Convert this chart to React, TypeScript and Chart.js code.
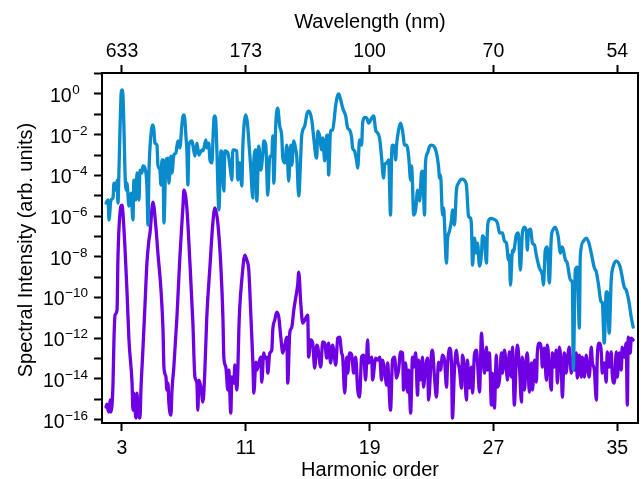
import React, { useEffect, useRef } from "react";
import { Chart, registerables } from "chart.js";

Chart.register(...registerables);

// ---- data (harmonic order, log10 of spectral intensity) ----
const harmonicTicks = [3, 11, 19, 27, 35];
const wavelengthLabels = ["633", "173", "100", "70", "54"];
const yTickExponents = [-16, -15, -14, -13, -12, -11, -10, -9, -8, -7, -6, -5, -4, -3, -2, -1, 0, 1];
const yLabelExponents = [-16, -14, -12, -10, -8, -6, -4, -2, 0];

const blueH = [
  1.97, 2.10, 2.16, 2.29, 2.42, 2.48, 2.61, 2.68, 2.74, 2.81, 2.87, 2.94, 3.00, 3.06, 3.13, 3.19,
  3.26, 3.32, 3.45, 3.58, 3.71, 3.77, 3.90, 3.97, 4.10, 4.16, 4.29, 4.35, 4.48, 4.61, 4.68, 4.74,
  4.87, 4.94, 5.00, 5.06, 5.13, 5.26, 5.32, 5.45, 5.52, 5.58, 5.65, 5.71, 5.84, 5.97, 6.03, 6.16,
  6.23, 6.35, 6.48, 6.61, 6.74, 6.87, 6.94, 7.00, 7.06, 7.13, 7.19, 7.26, 7.32, 7.52, 7.58, 7.71,
  7.84, 7.97, 8.16, 8.23, 8.42, 8.48, 8.61, 8.68, 8.81, 8.90, 8.95, 9.00, 9.06, 9.13, 9.26, 9.39,
  9.45, 9.58, 9.65, 9.84, 10.03, 10.10, 10.16, 10.42, 10.48, 10.61, 10.74, 10.81, 10.90, 11.00, 11.10, 11.19,
  11.32, 11.45, 11.52, 11.65, 11.71, 11.84, 11.97, 12.10, 12.16, 12.29, 12.42, 12.55, 12.68, 12.74, 12.81, 12.94,
  13.06, 13.19, 13.32, 13.39, 13.52, 13.65, 13.77, 13.90, 13.97, 14.10, 14.23, 14.29, 14.42, 14.55, 14.61, 14.81,
  14.94, 15.06, 15.16, 15.26, 15.39, 15.52, 15.58, 15.65, 15.77, 15.90, 15.97, 16.10, 16.23, 16.29, 16.35, 16.48,
  16.61, 16.81, 16.94, 17.00, 17.10, 17.26, 17.45, 17.58, 17.71, 17.84, 17.90, 18.03, 18.16, 18.23, 18.35, 18.48,
  18.55, 18.68, 18.81, 18.94, 19.13, 19.26, 19.39, 19.52, 19.65, 19.77, 19.90, 19.97, 20.10, 20.23, 20.35, 20.42,
  20.48, 20.61, 20.68, 20.74, 20.87, 21.00, 21.13, 21.26, 21.39, 21.52, 21.65, 21.71, 21.77, 21.84, 21.97, 22.10,
  22.23, 22.35, 22.42, 22.55, 22.61, 22.74, 22.87, 23.00, 23.19, 23.32, 23.45, 23.52, 23.58, 23.71, 23.77, 23.97,
  24.03, 24.16, 24.29, 24.35, 24.48, 24.61, 24.74, 24.87, 25.00, 25.13, 25.26, 25.39, 25.52, 25.58, 25.65, 25.77,
  25.90, 25.97, 26.10, 26.23, 26.29, 26.42, 26.55, 26.61, 26.68, 26.84, 27.00, 27.26, 27.39, 27.58, 27.71, 27.84,
  27.97, 28.03, 28.10, 28.23, 28.29, 28.48, 28.61, 28.74, 28.87, 29.00, 29.13, 29.19, 29.26, 29.39, 29.52, 29.65,
  29.77, 29.97, 30.16, 30.23, 30.35, 30.48, 30.61, 30.74, 30.87, 31.00, 31.19, 31.32, 31.45, 31.65, 31.77, 31.97,
  32.10, 32.16, 32.29, 32.42, 32.55, 32.61, 32.80, 33.00, 33.16, 33.32, 33.52, 33.65, 33.77, 33.97, 34.03, 34.16,
  34.29, 34.35, 34.48, 34.61, 34.77, 34.94, 35.19, 35.45, 35.58, 35.77, 35.90, 36.03,
];
const blueLog10 = [
  -5.36, -5.21, -6.19, -5.21, -5.11, -4.38, -4.72, -4.23, -5.36, -3.60, -1.77, -0.05, 0.20, -0.05, -1.77, -3.74,
  -4.72, -4.38, -5.51, -4.87, -6.19, -4.23, -5.21, -3.88, -5.21, -3.74, -3.88, -3.54, -3.64, -4.52, -6.44, -3.88,
  -2.02, -1.60, -1.52, -1.75, -2.41, -2.51, -3.49, -3.74, -4.47, -3.24, -3.24, -6.34, -3.24, -3.15, -4.38, -3.05,
  -3.88, -3.00, -2.90, -2.31, -2.65, -1.52, -1.10, -1.03, -1.25, -2.06, -2.75, -4.47, -2.51, -2.31, -2.51, -3.05,
  -2.41, -3.00, -2.75, -2.80, -2.26, -2.65, -2.41, -3.24, -3.39, -1.80, -1.15, -1.08, -1.30, -2.75, -5.70, -2.80,
  -2.90, -4.77, -2.80, -2.90, -3.88, -4.23, -2.75, -2.80, -4.23, -3.39, -4.52, -2.56, -1.40, -1.03, -1.40, -2.26,
  -3.64, -5.11, -3.24, -2.75, -5.26, -2.56, -3.74, -2.90, -2.31, -2.51, -4.97, -3.05, -3.05, -2.06, -4.38, -1.43,
  -0.69, -1.57, -2.06, -3.15, -3.39, -2.51, -4.28, -2.51, -3.49, -2.31, -2.75, -3.05, -5.01, -3.05, -2.06, -1.57,
  -1.00, -0.84, -0.95, -1.28, -2.16, -3.05, -3.15, -1.82, -2.06, -2.75, -2.16, -3.29, -2.02, -2.02, -3.98, -1.82,
  -1.77, -0.54, -0.05, 0.00, -0.20, -0.69, -1.08, -1.67, -1.77, -2.16, -2.65, -2.80, -3.29, -3.64, -2.26, -2.51,
  -1.43, -1.15, -1.18, -1.43, -1.18, -1.08, -1.77, -1.92, -2.20, -3.10, -4.13, -3.49, -3.39, -3.24, -5.95, -3.05,
  -2.51, -2.61, -3.24, -2.51, -1.77, -1.43, -1.82, -2.51, -2.51, -3.05, -4.23, -3.54, -4.38, -5.95, -5.70, -4.72,
  -5.26, -3.88, -3.79, -5.95, -3.39, -2.90, -2.58, -2.51, -2.61, -2.90, -3.54, -4.13, -3.98, -5.95, -5.60, -8.31,
  -7.18, -6.74, -6.19, -5.70, -6.44, -4.72, -4.38, -4.22, -4.18, -4.25, -4.52, -6.00, -6.10, -6.49, -8.41, -7.08,
  -7.82, -7.33, -8.46, -7.82, -6.98, -7.18, -8.31, -6.69, -6.24, -6.12, -6.15, -6.34, -6.83, -6.83, -7.23, -7.33,
  -8.16, -7.92, -9.39, -7.67, -7.77, -6.93, -6.83, -8.65, -6.83, -6.54, -6.78, -7.67, -6.78, -6.64, -7.33, -7.42,
  -7.92, -8.55, -8.90, -9.39, -7.67, -7.52, -9.29, -7.03, -6.65, -6.54, -7.03, -7.82, -7.52, -8.16, -8.31, -9.14,
  -9.29, -13.57, -8.65, -8.51, -11.50, -8.01, -7.25, -7.08, -7.30, -7.82, -8.55, -8.75, -9.29, -10.23, -10.23, -12.24,
  -9.73, -9.73, -11.75, -9.14, -8.40, -8.21, -8.51, -9.49, -9.64, -10.28, -10.96, -11.46,
];

const purpleH = [
  1.97, 2.03, 2.10, 2.16, 2.23, 2.29, 2.42, 2.48, 2.55, 2.68, 2.74, 2.87, 3.00, 3.06, 3.19, 3.32,
  3.45, 3.65, 3.71, 3.77, 3.90, 3.97, 4.03, 4.16, 4.23, 4.35, 4.48, 4.61, 4.74, 4.81, 5.00, 5.19,
  5.32, 5.52, 5.65, 5.71, 5.84, 5.90, 5.97, 6.03, 6.16, 6.23, 6.35, 6.55, 6.74, 6.94, 7.00, 7.19,
  7.39, 7.58, 7.71, 7.84, 7.90, 7.97, 8.10, 8.23, 8.35, 8.48, 8.68, 8.87, 9.00, 9.19, 9.39, 9.52,
  9.58, 9.71, 9.84, 9.90, 10.03, 10.10, 10.23, 10.29, 10.42, 10.48, 10.55, 10.61, 10.74, 10.94, 11.06, 11.19,
  11.32, 11.45, 11.52, 11.65, 11.71, 11.84, 11.97, 12.03, 12.16, 12.23, 12.35, 12.42, 12.55, 12.68, 12.74, 12.87,
  13.00, 13.13, 13.26, 13.39, 13.52, 13.65, 13.71, 13.84, 13.97, 14.10, 14.23, 14.35, 14.42, 14.55, 14.68, 14.81,
  15.00, 15.06, 15.19, 15.32, 15.45, 15.58, 15.65, 15.84, 15.97, 16.10, 16.23, 16.35, 16.48, 16.61, 16.68, 16.81,
  16.94, 17.06, 17.19, 17.26, 17.39, 17.52, 17.58, 17.71, 17.84, 17.97, 18.10, 18.23, 18.35, 18.48, 18.61, 18.74,
  18.87, 18.94, 19.13, 19.19, 19.39, 19.52, 19.65, 19.77, 19.84, 19.97, 20.10, 20.16, 20.35, 20.48, 20.61, 20.74,
  20.87, 21.00, 21.13, 21.19, 21.32, 21.45, 21.52, 21.65, 21.77, 21.84, 21.97, 22.10, 22.16, 22.29, 22.42, 22.48,
  22.61, 22.74, 22.81, 23.00, 23.06, 23.19, 23.32, 23.45, 23.58, 23.71, 23.84, 23.97, 24.03, 24.16, 24.29, 24.35,
  24.48, 24.61, 24.68, 24.81, 24.94, 25.00, 25.13, 25.26, 25.32, 25.45, 25.58, 25.65, 25.77, 25.90, 25.97, 26.10,
  26.23, 26.29, 26.42, 26.55, 26.61, 26.74, 26.87, 26.94, 27.06, 27.19, 27.26, 27.39, 27.52, 27.58, 27.71, 27.84,
  27.90, 28.03, 28.16, 28.23, 28.35, 28.48, 28.55, 28.68, 28.81, 28.87, 29.00, 29.13, 29.19, 29.32, 29.45, 29.52,
  29.65, 29.77, 29.84, 29.97, 30.10, 30.16, 30.29, 30.42, 30.48, 30.61, 30.74, 30.81, 30.94, 31.06, 31.13, 31.26,
  31.39, 31.45, 31.58, 31.71, 31.77, 31.90, 32.03, 32.10, 32.23, 32.35, 32.42, 32.55, 32.68, 32.74, 32.87, 33.00,
  33.06, 33.19, 33.32, 33.39, 33.52, 33.65, 33.71, 33.84, 33.97, 34.03, 34.16, 34.29, 34.35, 34.48, 34.61, 34.68,
  34.81, 34.94, 35.00, 35.13, 35.26, 35.32, 35.45, 35.58, 35.65, 35.71, 35.84, 35.90, 36.03,
];
const purpleLog10 = [
  -15.39, -15.24, -15.54, -15.63, -15.04, -15.63, -14.21, -12.09, -10.87, -10.62, -8.01, -5.85, -5.46, -5.85, -7.52, -9.64,
  -12.09, -14.21, -15.54, -14.70, -15.93, -14.70, -15.68, -15.93, -14.41, -12.59, -10.47, -8.31, -7.18, -6.83, -5.31, -6.54,
  -7.82, -9.64, -11.60, -13.42, -13.91, -14.55, -14.21, -15.19, -15.78, -14.55, -13.42, -10.96, -8.01, -5.50, -4.72, -5.60,
  -8.31, -11.26, -13.91, -14.21, -15.54, -14.06, -14.41, -15.14, -13.67, -10.96, -8.51, -6.34, -5.60, -6.34, -8.51, -10.96,
  -12.93, -13.42, -14.55, -13.57, -15.68, -13.91, -14.21, -13.32, -14.55, -13.72, -11.60, -10.47, -9.14, -7.92, -8.16, -8.65,
  -10.77, -13.08, -14.70, -13.18, -13.57, -13.22, -12.93, -14.16, -12.73, -12.98, -12.93, -13.72, -12.73, -12.59, -11.60, -11.11,
  -10.72, -10.96, -11.95, -12.73, -12.34, -11.95, -14.21, -11.75, -11.46, -10.62, -9.98, -9.39, -8.75, -10.28, -11.26, -11.11,
  -10.87, -12.93, -12.09, -12.24, -13.47, -12.34, -12.44, -13.42, -12.19, -12.24, -12.98, -12.24, -13.22, -12.34, -12.59, -13.32,
  -12.00, -11.95, -12.73, -12.93, -14.70, -12.93, -13.72, -12.73, -12.83, -13.72, -12.93, -14.55, -14.90, -12.93, -12.83, -14.06,
  -12.09, -13.22, -12.93, -14.06, -12.98, -13.08, -12.93, -14.06, -13.08, -13.57, -14.31, -13.22, -15.54, -13.08, -12.93, -13.96,
  -13.57, -12.68, -12.73, -14.55, -13.22, -14.65, -13.57, -15.68, -12.93, -13.42, -12.73, -14.80, -13.08, -14.06, -12.93, -14.41,
  -13.47, -12.98, -15.04, -12.73, -12.59, -13.91, -14.90, -13.18, -13.57, -12.83, -13.08, -14.41, -13.42, -12.49, -13.22, -15.93,
  -13.57, -12.59, -13.08, -13.57, -14.45, -12.83, -13.57, -15.04, -13.08, -14.45, -13.42, -14.70, -12.83, -12.59, -13.18, -14.65,
  -11.75, -12.44, -13.72, -12.44, -13.57, -12.73, -15.29, -13.72, -15.44, -12.83, -14.41, -14.06, -12.73, -13.72, -12.59, -13.57,
  -14.06, -12.68, -13.91, -12.44, -15.29, -12.93, -12.34, -13.42, -15.14, -12.93, -14.55, -12.93, -12.73, -14.65, -13.22, -14.55,
  -13.08, -14.16, -12.68, -12.24, -12.59, -13.42, -12.49, -14.06, -12.34, -13.42, -14.55, -12.73, -13.42, -12.59, -14.21, -12.44,
  -13.57, -14.90, -12.73, -13.72, -13.18, -12.44, -13.72, -12.93, -13.57, -12.73, -13.96, -12.83, -13.91, -12.93, -13.91, -12.83,
  -13.22, -13.91, -12.44, -13.18, -13.57, -15.04, -12.93, -12.24, -12.73, -13.72, -13.22, -14.16, -12.68, -13.42, -12.68, -13.82,
  -14.21, -12.68, -13.91, -12.73, -13.57, -12.44, -12.93, -12.24, -15.29, -11.95, -12.73, -12.00, -12.09,
];

const X_MIN = 1.708;
const X_MAX = 36.34;
const Y_MIN_EXP = -16.17;
const Y_MAX_EXP = 1.032;

const BLUE = "#0a8bcc";
const PURPLE = "#6f00e3";
const FONT = '"Liberation Sans", Arial, Helvetica, sans-serif';

const toPoints = (xs: number[], logs: number[]) =>
  xs.map((x, i) => ({ x, y: Math.pow(10, logs[i]) }));

const textPlugin = {
  id: "customText",
  afterDraw(chart: any) {
    const ctx = chart.ctx as CanvasRenderingContext2D;
    const yScale = chart.scales.y;
    const area = chart.chartArea;
    ctx.save();
    ctx.fillStyle = "#000";
    ctx.textBaseline = "alphabetic";
    for (const e of yLabelExponents) {
      const py = yScale.getPixelForValue(Math.pow(10, e));
      const expText = e === 0 ? "0" : "\u2212" + Math.abs(e);
      const left = Math.abs(e) >= 10 ? area.left - 59 : area.left - 52;
      ctx.font = `19.5px ${FONT}`;
      ctx.textAlign = "left";
      ctx.fillText("10", left, py + 8);
      const w = ctx.measureText("10").width;
      ctx.font = `13.5px ${FONT}`;
      ctx.fillText(expText, left + w + 0.5, py);
    }
    ctx.font = `20px ${FONT}`;
    ctx.textAlign = "center";
    const cx = (area.left + area.right) / 2;
    ctx.fillText("Wavelength (nm)", cx, 28);
    ctx.fillText("Harmonic order", cx, 476);
    ctx.save();
    ctx.translate(32, (area.top + area.bottom) / 2 + 2);
    ctx.rotate(-Math.PI / 2);
    ctx.fillText("Spectral Intensity (arb. units)", 0, 0);
    ctx.restore();
    ctx.restore();
  },
};

export default function App() {
  const canvasRef = useRef<HTMLCanvasElement | null>(null);

  useEffect(() => {
    const canvas = canvasRef.current;
    if (!canvas) return;
    const tickFont = { family: FONT, size: 19.5 };
    const grid = {
      drawOnChartArea: false,
      drawTicks: true,
      tickLength: 8,
      tickWidth: 2,
      tickColor: "#000",
    };
    const border = { display: true, color: "#000", width: 2 };
    const lineStyle = {
      borderWidth: 3.3,
      pointRadius: 0,
      cubicInterpolationMode: "monotone",
      fill: false,
      borderJoinStyle: "round",
      borderCapStyle: "round",
    };
    const chart = new Chart(canvas, {
      type: "line",
      data: {
        datasets: [
          {
            label: "blue",
            data: toPoints(blueH, blueLog10),
            borderColor: BLUE,
            ...lineStyle,
          },
          {
            label: "purple",
            data: toPoints(purpleH, purpleLog10),
            borderColor: PURPLE,
            ...lineStyle,
          },
        ],
      },
      options: {
        animation: false,
        responsive: false,
        devicePixelRatio: 1,
        layout: { padding: { left: 0, right: 3, top: 0, bottom: 0 } },
        plugins: { legend: { display: false }, tooltip: { enabled: false } },
        events: [],
        scales: {
          x: {
            type: "linear",
            position: "bottom",
            min: X_MIN,
            max: X_MAX,
            afterBuildTicks: (s: any) => {
              s.ticks = harmonicTicks.map((v) => ({ value: v }));
            },
            afterFit: (s: any) => {
              s.height = 56;
            },
            ticks: {
              font: tickFont,
              color: "#000",
              padding: 6,
              maxRotation: 0,
              autoSkip: false,
              callback: (v: any) => String(v),
            },
            grid,
            border,
          },
          x2: {
            type: "linear",
            position: "top",
            min: X_MIN,
            max: X_MAX,
            afterBuildTicks: (s: any) => {
              s.ticks = harmonicTicks.map((v) => ({ value: v }));
            },
            afterFit: (s: any) => {
              s.height = 73;
            },
            ticks: {
              font: tickFont,
              color: "#000",
              padding: 2,
              maxRotation: 0,
              autoSkip: false,
              callback: (_v: any, i: number) => wavelengthLabels[i],
            },
            grid,
            border,
          },
          y: {
            type: "logarithmic",
            position: "left",
            min: Math.pow(10, Y_MIN_EXP),
            max: Math.pow(10, Y_MAX_EXP),
            afterBuildTicks: (s: any) => {
              s.ticks = yTickExponents.map((e) => ({ value: Math.pow(10, e) }));
            },
            afterFit: (s: any) => {
              s.width = 102;
            },
            ticks: { display: false },
            grid,
            border,
          },
          y2: {
            type: "linear",
            position: "right",
            afterFit: (s: any) => {
              s.width = 0;
            },
            ticks: { display: false },
            grid: { drawOnChartArea: false, drawTicks: false },
            border,
          },
        },
      },
      plugins: [textPlugin],
    } as any);
    return () => chart.destroy();
  }, []);

  return (
    <div style={{ position: "fixed", left: 0, top: 0, width: 641, height: 479, background: "#fff" }}>
      <canvas ref={canvasRef} width={641} height={479} style={{ display: "block" }} />
    </div>
  );
}
